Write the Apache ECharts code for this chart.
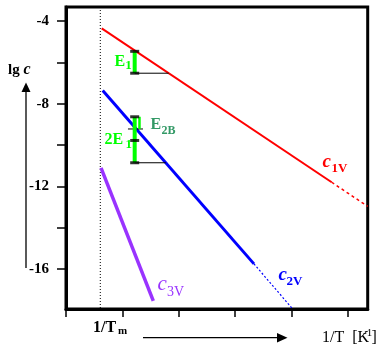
<!DOCTYPE html>
<html>
<head>
<meta charset="utf-8">
<script src="https://cdn.jsdelivr.net/npm/echarts@6/dist/echarts.min.js"></script>
<style>
html,body{margin:0;padding:0;background:#fff;}
#chart{width:392px;height:351px;}
</style>
</head>
<body>
<div id="chart"></div>
<script>
// axis ranges and ticks (arbitrary 1/T units, lg c)
const xRange = [0, 5.35];
const yRange = [-17.94, -3.32];
const xTickValues = [0, 1, 2, 3, 4, 5];
const yTickValues = [-16, -14, -12, -10, -8, -6, -4];
const yLabelValues = [-16, -12, -8, -4];
const invTm = 0.608;

// concentration lines [1/T, lg c]
const c1vSolid = [[0.633, -4.353], [4.711, -11.804]];
const c1vDotted = [[4.711, -11.804], [5.35, -12.97]];
const c2vSolid = [[0.651, -7.362], [3.333, -15.756]];
const c2vDotted = [[3.333, -15.756], [4.02, -17.94]];
const c3v = [[0.621, -11.112], [1.548, -17.546]];

// energy markers
const e1Bar = [[1.218, -5.466], [1.218, -6.525]];
const e1Base = [[1.218, -6.525], [1.82, -6.525]];
const twoE1Bar = [[1.218, -8.635], [1.218, -10.86]];
const twoE1Base = [[1.218, -10.86], [1.77, -10.86]];
const e2bBar = [[1.303, -8.635], [1.303, -9.225]];
const e2bLine = [[1.099, -9.225], [1.365, -9.225]];
const capPoints = [[1.218, -5.466], [1.218, -6.525], [1.218, -8.635], [1.218, -9.781], [1.218, -10.86]];
const tmLine = [[invTm, yRange[1]], [invTm, yRange[0]]];

const SERIF = "'Liberation Serif', 'DejaVu Serif', serif";
const RED = '#ff0000', BLUE = '#0000ff', PURPLE = '#9933ff', GREEN = '#00ff00', SEAGREEN = '#339966';

function lineSeries(data, color, width, type, z) {
  return {
    type: 'line', data: data, showSymbol: false, symbol: 'none',
    lineStyle: {color: color, width: width, type: type || 'solid'},
    silent: true, z: z || 2, animation: false
  };
}

function txt(text, x, y, size, color, style, weight) {
  return {
    type: 'text', x: x, y: y, silent: true,
    style: {
      text: text, fill: color || '#000', align: 'left', verticalAlign: 'middle',
      font: (style || 'normal') + ' ' + (weight || 'bold') + ' ' + size + 'px ' + SERIF
    }
  };
}

const chart = echarts.init(document.getElementById('chart'), null, {renderer: 'canvas'});
chart.setOption({
  animation: false,
  backgroundColor: '#fff',
  grid: {left: 66, top: 7, width: 301.7, height: 302, show: true, borderColor: '#000', borderWidth: 3, backgroundColor: 'transparent'},
  xAxis: {
    type: 'value', min: xRange[0], max: xRange[1],
    axisLine: {show: true, onZero: false, lineStyle: {color: '#000', width: 3}},
    axisTick: {show: true, length: 8, customValues: xTickValues, lineStyle: {color: '#000', width: 1.5}},
    axisLabel: {show: false},
    splitLine: {show: false}
  },
  yAxis: {
    type: 'value', min: yRange[0], max: yRange[1],
    axisLine: {show: true, onZero: false, lineStyle: {color: '#000', width: 3}},
    axisTick: {show: true, length: 9, customValues: yTickValues, lineStyle: {color: '#000', width: 1.5}},
    axisLabel: {show: true, customValues: yLabelValues, margin: 17, color: '#000', fontSize: 15, fontWeight: 'bold', fontFamily: SERIF,
      formatter: function (v) { return String(v); }},
    splitLine: {show: false}
  },
  series: [
    lineSeries(tmLine, '#000', 1, [1, 2], 1),
    lineSeries(c1vSolid, RED, 2, 'solid'),
    lineSeries(c1vDotted, RED, 1.5, [3, 3]),
    lineSeries(c2vSolid, BLUE, 3, 'solid'),
    lineSeries(c2vDotted, BLUE, 1.2, [2, 2]),
    lineSeries(c3v, PURPLE, 3.5, 'solid'),
    lineSeries(e1Base, '#000', 1, 'solid', 3),
    lineSeries(twoE1Base, '#000', 1, 'solid', 3),
    lineSeries(e2bLine, '#000', 1, 'solid', 3),
    lineSeries(e1Bar, GREEN, 4, 'solid', 4),
    lineSeries(twoE1Bar, GREEN, 4, 'solid', 4),
    lineSeries(e2bBar, GREEN, 2.5, 'solid', 4),
    {
      type: 'scatter', data: capPoints, symbol: 'rect', symbolSize: [9, 3],
      itemStyle: {color: '#000'}, silent: true, z: 5, animation: false
    }
  ],
  graphic: [
    // axis names
    {type: 'text', x: 8, y: 70, silent: true, style: {
      text: '{a|lg }{b|c}', align: 'left', verticalAlign: 'middle',
      rich: {a: {font: 'bold 15px ' + SERIF, fill: '#000'}, b: {font: 'italic bold 16px ' + SERIF, fill: '#000'}}
    }},
    {type: 'line', silent: true, shape: {x1: 26, y1: 90, x2: 26, y2: 268}, style: {stroke: '#000', lineWidth: 1.3}},
    {type: 'polygon', silent: true, shape: {points: [[26, 82.5], [21.5, 92], [30.5, 92]]}, style: {fill: '#000'}},
    txt('1/T', 93, 328, 16),
    txt('m', 118, 331, 11),
    {type: 'line', silent: true, shape: {x1: 143, y1: 337.7, x2: 280, y2: 337.7}, style: {stroke: '#000', lineWidth: 1.3}},
    {type: 'polygon', silent: true, shape: {points: [[287.5, 337.7], [277, 333], [277, 342.4]]}, style: {fill: '#000'}},
    txt('1/T  [K', 322, 338, 16, '#000', 'normal', 'normal'),
    txt('-1', 363, 333, 11, '#000', 'normal', 'normal'),
    txt(']', 371.5, 338, 16, '#000', 'normal', 'normal'),
    // energy labels
    txt('E', 114.5, 62, 16, GREEN),
    txt('1', 125.3, 65.5, 13, GREEN),
    txt('2E', 104.5, 140, 16, GREEN),
    txt('1', 125.5, 145, 13, GREEN),
    txt('E', 150.5, 124.5, 16, SEAGREEN),
    txt('2B', 161.5, 131, 12, SEAGREEN),
    // series labels
    txt('c', 322.5, 162, 19, RED, 'italic'),
    txt('1V', 331.5, 169, 13, RED),
    txt('c', 278.5, 275, 19, BLUE, 'italic'),
    txt('2V', 286.5, 282, 13, BLUE),
    txt('c', 157.5, 284, 21, PURPLE, 'italic', 'normal'),
    txt('3V', 167, 292, 14, PURPLE, 'normal', 'normal')
  ]
});
</script>
</body>
</html>
